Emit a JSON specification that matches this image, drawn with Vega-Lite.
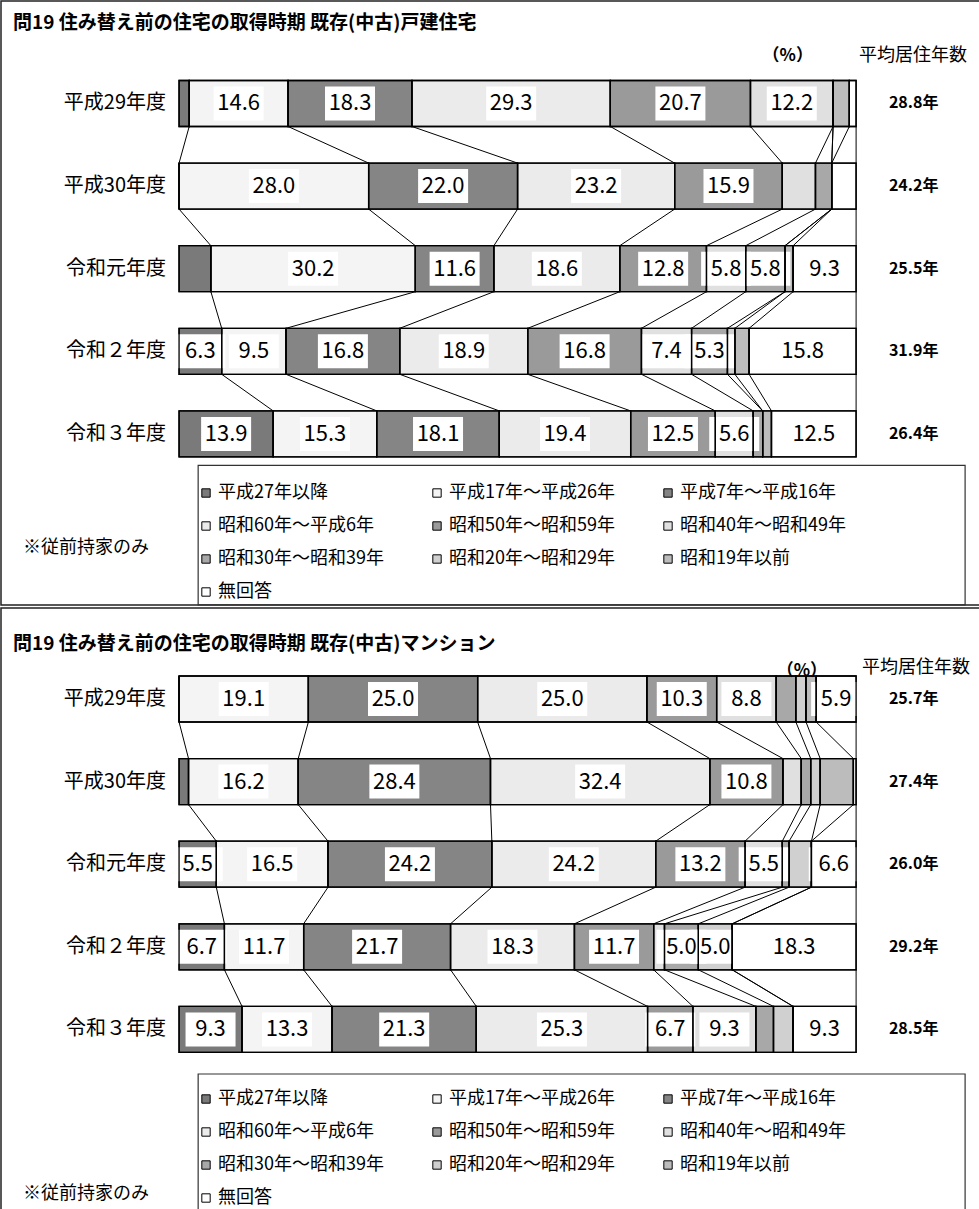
{
  "$schema": "https://vega.github.io/schema/vega-lite/v6.json",
  "padding": 0,
  "spacing": 0,
  "background": "white",
  "config": {
    "view": {"stroke": "#222", "strokeWidth": 1.5},
    "font": "Noto Sans CJK JP",
    "concat": {"spacing": 0}
  },
  "datasets": {
    "seg": [
      {"p":"戸建","yo":1,"co":1,"cat":"平成27年以降","v":1.5},
      {"p":"戸建","yo":1,"co":2,"cat":"平成17年～平成26年","v":14.6},
      {"p":"戸建","yo":1,"co":3,"cat":"平成7年～平成16年","v":18.3},
      {"p":"戸建","yo":1,"co":4,"cat":"昭和60年～平成6年","v":29.3},
      {"p":"戸建","yo":1,"co":5,"cat":"昭和50年～昭和59年","v":20.7},
      {"p":"戸建","yo":1,"co":6,"cat":"昭和40年～昭和49年","v":12.2},
      {"p":"戸建","yo":1,"co":7,"cat":"昭和30年～昭和39年","v":0},
      {"p":"戸建","yo":1,"co":8,"cat":"昭和20年～昭和29年","v":0},
      {"p":"戸建","yo":1,"co":9,"cat":"昭和19年以前","v":2.4},
      {"p":"戸建","yo":1,"co":10,"cat":"無回答","v":1.0},
      {"p":"戸建","yo":2,"co":1,"cat":"平成27年以降","v":0},
      {"p":"戸建","yo":2,"co":2,"cat":"平成17年～平成26年","v":28.0},
      {"p":"戸建","yo":2,"co":3,"cat":"平成7年～平成16年","v":22.0},
      {"p":"戸建","yo":2,"co":4,"cat":"昭和60年～平成6年","v":23.2},
      {"p":"戸建","yo":2,"co":5,"cat":"昭和50年～昭和59年","v":15.9},
      {"p":"戸建","yo":2,"co":6,"cat":"昭和40年～昭和49年","v":4.9},
      {"p":"戸建","yo":2,"co":7,"cat":"昭和30年～昭和39年","v":2.4},
      {"p":"戸建","yo":2,"co":8,"cat":"昭和20年～昭和29年","v":0},
      {"p":"戸建","yo":2,"co":9,"cat":"昭和19年以前","v":0},
      {"p":"戸建","yo":2,"co":10,"cat":"無回答","v":3.6},
      {"p":"戸建","yo":3,"co":1,"cat":"平成27年以降","v":4.7},
      {"p":"戸建","yo":3,"co":2,"cat":"平成17年～平成26年","v":30.2},
      {"p":"戸建","yo":3,"co":3,"cat":"平成7年～平成16年","v":11.6},
      {"p":"戸建","yo":3,"co":4,"cat":"昭和60年～平成6年","v":18.6},
      {"p":"戸建","yo":3,"co":5,"cat":"昭和50年～昭和59年","v":12.8},
      {"p":"戸建","yo":3,"co":6,"cat":"昭和40年～昭和49年","v":5.8},
      {"p":"戸建","yo":3,"co":7,"cat":"昭和30年～昭和39年","v":5.8},
      {"p":"戸建","yo":3,"co":8,"cat":"昭和20年～昭和29年","v":0},
      {"p":"戸建","yo":3,"co":9,"cat":"昭和19年以前","v":1.2},
      {"p":"戸建","yo":3,"co":10,"cat":"無回答","v":9.3},
      {"p":"戸建","yo":4,"co":1,"cat":"平成27年以降","v":6.3},
      {"p":"戸建","yo":4,"co":2,"cat":"平成17年～平成26年","v":9.5},
      {"p":"戸建","yo":4,"co":3,"cat":"平成7年～平成16年","v":16.8},
      {"p":"戸建","yo":4,"co":4,"cat":"昭和60年～平成6年","v":18.9},
      {"p":"戸建","yo":4,"co":5,"cat":"昭和50年～昭和59年","v":16.8},
      {"p":"戸建","yo":4,"co":6,"cat":"昭和40年～昭和49年","v":7.4},
      {"p":"戸建","yo":4,"co":7,"cat":"昭和30年～昭和39年","v":5.3},
      {"p":"戸建","yo":4,"co":8,"cat":"昭和20年～昭和29年","v":1.1},
      {"p":"戸建","yo":4,"co":9,"cat":"昭和19年以前","v":2.1},
      {"p":"戸建","yo":4,"co":10,"cat":"無回答","v":15.8},
      {"p":"戸建","yo":5,"co":1,"cat":"平成27年以降","v":13.9},
      {"p":"戸建","yo":5,"co":2,"cat":"平成17年～平成26年","v":15.3},
      {"p":"戸建","yo":5,"co":3,"cat":"平成7年～平成16年","v":18.1},
      {"p":"戸建","yo":5,"co":4,"cat":"昭和60年～平成6年","v":19.4},
      {"p":"戸建","yo":5,"co":5,"cat":"昭和50年～昭和59年","v":12.5},
      {"p":"戸建","yo":5,"co":6,"cat":"昭和40年～昭和49年","v":5.6},
      {"p":"戸建","yo":5,"co":7,"cat":"昭和30年～昭和39年","v":1.4},
      {"p":"戸建","yo":5,"co":8,"cat":"昭和20年～昭和29年","v":0},
      {"p":"戸建","yo":5,"co":9,"cat":"昭和19年以前","v":1.3},
      {"p":"戸建","yo":5,"co":10,"cat":"無回答","v":12.5},
      {"p":"マンション","yo":1,"co":1,"cat":"平成27年以降","v":0},
      {"p":"マンション","yo":1,"co":2,"cat":"平成17年～平成26年","v":19.1},
      {"p":"マンション","yo":1,"co":3,"cat":"平成7年～平成16年","v":25.0},
      {"p":"マンション","yo":1,"co":4,"cat":"昭和60年～平成6年","v":25.0},
      {"p":"マンション","yo":1,"co":5,"cat":"昭和50年～昭和59年","v":10.3},
      {"p":"マンション","yo":1,"co":6,"cat":"昭和40年～昭和49年","v":8.8},
      {"p":"マンション","yo":1,"co":7,"cat":"昭和30年～昭和39年","v":2.9},
      {"p":"マンション","yo":1,"co":8,"cat":"昭和20年～昭和29年","v":1.5},
      {"p":"マンション","yo":1,"co":9,"cat":"昭和19年以前","v":1.5},
      {"p":"マンション","yo":1,"co":10,"cat":"無回答","v":5.9},
      {"p":"マンション","yo":2,"co":1,"cat":"平成27年以降","v":1.4},
      {"p":"マンション","yo":2,"co":2,"cat":"平成17年～平成26年","v":16.2},
      {"p":"マンション","yo":2,"co":3,"cat":"平成7年～平成16年","v":28.4},
      {"p":"マンション","yo":2,"co":4,"cat":"昭和60年～平成6年","v":32.4},
      {"p":"マンション","yo":2,"co":5,"cat":"昭和50年～昭和59年","v":10.8},
      {"p":"マンション","yo":2,"co":6,"cat":"昭和40年～昭和49年","v":2.7},
      {"p":"マンション","yo":2,"co":7,"cat":"昭和30年～昭和39年","v":1.4},
      {"p":"マンション","yo":2,"co":8,"cat":"昭和20年～昭和29年","v":1.4},
      {"p":"マンション","yo":2,"co":9,"cat":"昭和19年以前","v":4.9},
      {"p":"マンション","yo":2,"co":10,"cat":"無回答","v":0.4},
      {"p":"マンション","yo":3,"co":1,"cat":"平成27年以降","v":5.5},
      {"p":"マンション","yo":3,"co":2,"cat":"平成17年～平成26年","v":16.5},
      {"p":"マンション","yo":3,"co":3,"cat":"平成7年～平成16年","v":24.2},
      {"p":"マンション","yo":3,"co":4,"cat":"昭和60年～平成6年","v":24.2},
      {"p":"マンション","yo":3,"co":5,"cat":"昭和50年～昭和59年","v":13.2},
      {"p":"マンション","yo":3,"co":6,"cat":"昭和40年～昭和49年","v":5.5},
      {"p":"マンション","yo":3,"co":7,"cat":"昭和30年～昭和39年","v":1.0},
      {"p":"マンション","yo":3,"co":8,"cat":"昭和20年～昭和29年","v":3.3},
      {"p":"マンション","yo":3,"co":9,"cat":"昭和19年以前","v":0},
      {"p":"マンション","yo":3,"co":10,"cat":"無回答","v":6.6},
      {"p":"マンション","yo":4,"co":1,"cat":"平成27年以降","v":6.7},
      {"p":"マンション","yo":4,"co":2,"cat":"平成17年～平成26年","v":11.7},
      {"p":"マンション","yo":4,"co":3,"cat":"平成7年～平成16年","v":21.7},
      {"p":"マンション","yo":4,"co":4,"cat":"昭和60年～平成6年","v":18.3},
      {"p":"マンション","yo":4,"co":5,"cat":"昭和50年～昭和59年","v":11.7},
      {"p":"マンション","yo":4,"co":6,"cat":"昭和40年～昭和49年","v":1.6},
      {"p":"マンション","yo":4,"co":7,"cat":"昭和30年～昭和39年","v":5.0},
      {"p":"マンション","yo":4,"co":8,"cat":"昭和20年～昭和29年","v":5.0},
      {"p":"マンション","yo":4,"co":9,"cat":"昭和19年以前","v":0},
      {"p":"マンション","yo":4,"co":10,"cat":"無回答","v":18.3},
      {"p":"マンション","yo":5,"co":1,"cat":"平成27年以降","v":9.3},
      {"p":"マンション","yo":5,"co":2,"cat":"平成17年～平成26年","v":13.3},
      {"p":"マンション","yo":5,"co":3,"cat":"平成7年～平成16年","v":21.3},
      {"p":"マンション","yo":5,"co":4,"cat":"昭和60年～平成6年","v":25.3},
      {"p":"マンション","yo":5,"co":5,"cat":"昭和50年～昭和59年","v":6.7},
      {"p":"マンション","yo":5,"co":6,"cat":"昭和40年～昭和49年","v":9.3},
      {"p":"マンション","yo":5,"co":7,"cat":"昭和30年～昭和39年","v":2.6},
      {"p":"マンション","yo":5,"co":8,"cat":"昭和20年～昭和29年","v":2.9},
      {"p":"マンション","yo":5,"co":9,"cat":"昭和19年以前","v":0},
      {"p":"マンション","yo":5,"co":10,"cat":"無回答","v":9.3}
    ],
    "avg": [
      {"p":"戸建","yo":1,"year":"平成29年度","avg":28.8},
      {"p":"戸建","yo":2,"year":"平成30年度","avg":24.2},
      {"p":"戸建","yo":3,"year":"令和元年度","avg":25.5},
      {"p":"戸建","yo":4,"year":"令和２年度","avg":31.9},
      {"p":"戸建","yo":5,"year":"令和３年度","avg":26.4},
      {"p":"マンション","yo":1,"year":"平成29年度","avg":25.7},
      {"p":"マンション","yo":2,"year":"平成30年度","avg":27.4},
      {"p":"マンション","yo":3,"year":"令和元年度","avg":26.0},
      {"p":"マンション","yo":4,"year":"令和２年度","avg":29.2},
      {"p":"マンション","yo":5,"year":"令和３年度","avg":28.5}
    ]
  },
  "resolve": {"scale": {"fill": "independent"}, "legend": {"fill": "independent"}},
  "vconcat": [
    {
      "width": 979,
      "height": 604,
      "layer": [
        {
          "data": {"name": "seg"},
          "transform": [
            {"filter": "datum.p === '戸建'"},
            {"stack": "v", "groupby": ["yo"], "sort": [{"field": "co", "order": "ascending"}], "as": ["x0", "x1"]}
          ],
          "mark": {"type": "rect", "yOffset": -23, "y2Offset": 23, "stroke": "black", "strokeWidth": 1.3},
          "encoding": {
            "x": {"field": "x0", "type": "quantitative", "scale": {"domain": [-26.3, 118.3], "nice": false, "zero": false}, "axis": null},
            "x2": {"field": "x1"},
            "y": {"field": "yo", "type": "quantitative", "scale": {"domain": [-0.2409, 7.0714], "reverse": true, "nice": false, "zero": false}, "axis": null},
            "y2": {"field": "yo"},
            "fill": {
              "field": "cat", "type": "nominal",
              "scale": {
                "domain": ["平成27年以降","平成17年～平成26年","平成7年～平成16年","昭和60年～平成6年","昭和50年～昭和59年","昭和40年～昭和49年","昭和30年～昭和39年","昭和20年～昭和29年","昭和19年以前","無回答"],
                "range": ["#7a7a7a","#f4f4f4","#858585","#ebebeb","#9a9a9a","#e0e0e0","#a8a8a8","#d0d0d0","#bcbcbc","#ffffff"]
              },
              "legend": {"title": null, "orient": "none", "direction": "horizontal", "legendX": 196, "legendY": 483, "columns": 3, "gridAlign": "all", "columnPadding": 44, "rowPadding": 15, "symbolType": "square", "symbolSize": 70, "symbolStrokeColor": "black", "symbolStrokeWidth": 1, "labelFontSize": 18, "labelFont": "Noto Sans CJK JP", "labelColor": "black", "labelOffset": 3, "labelLimit": 400}
            }
          }
        },
        {
          "data": {"name": "seg"},
          "transform": [
            {"filter": "datum.p === '戸建'"},
            {"stack": "v", "groupby": ["yo"], "sort": [{"field": "co", "order": "ascending"}], "as": ["x0", "x1"]},
            {"window": [{"op": "lead", "field": "x1", "as": "nx1"}, {"op": "lead", "field": "yo", "as": "nyo"}], "groupby": ["co"], "sort": [{"field": "yo", "order": "ascending"}]},
            {"filter": "datum.nyo != null"}
          ],
          "mark": {"type": "rule", "yOffset": 23, "y2Offset": -23, "color": "black", "strokeWidth": 1},
          "encoding": {
            "x": {"field": "x1", "type": "quantitative"},
            "x2": {"field": "nx1"},
            "y": {"field": "yo", "type": "quantitative"},
            "y2": {"field": "nyo"}
          }
        },
        {
          "data": {"name": "seg"},
          "transform": [
            {"filter": "datum.p === '戸建'"},
            {"stack": "v", "groupby": ["yo"], "sort": [{"field": "co", "order": "ascending"}], "as": ["x0", "x1"]},
            {"calculate": "(datum.x0 + datum.x1) / 2", "as": "xm"},
            {"filter": "datum.v >= 5"}
          ],
          "mark": {"type": "point", "shape": "M-1,-0.68H1V0.68H-1Z", "size": 2500, "filled": true, "fill": "white", "opacity": 1, "strokeWidth": 0},
          "encoding": {
            "x": {"field": "xm", "type": "quantitative"},
            "y": {"field": "yo", "type": "quantitative"}
          }
        },
        {
          "data": {"name": "seg"},
          "transform": [
            {"filter": "datum.p === '戸建'"},
            {"stack": "v", "groupby": ["yo"], "sort": [{"field": "co", "order": "ascending"}], "as": ["x0", "x1"]}
          ],
          "mark": {"type": "rect", "yOffset": -23, "y2Offset": 23, "stroke": "black", "strokeWidth": 1.3, "fill": "transparent"},
          "encoding": {
            "x": {"field": "x0", "type": "quantitative"},
            "x2": {"field": "x1"},
            "y": {"field": "yo", "type": "quantitative"},
            "y2": {"field": "yo"}
          }
        },
        {
          "data": {"name": "seg"},
          "transform": [
            {"filter": "datum.p === '戸建'"},
            {"stack": "v", "groupby": ["yo"], "sort": [{"field": "co", "order": "ascending"}], "as": ["x0", "x1"]},
            {"calculate": "(datum.x0 + datum.x1) / 2", "as": "xm"},
            {"filter": "datum.v >= 5"}
          ],
          "mark": {"type": "text", "font": "Noto Sans CJK JP", "fontSize": 22, "align": "center", "baseline": "middle", "color": "black"},
          "encoding": {
            "x": {"field": "xm", "type": "quantitative"},
            "y": {"field": "yo", "type": "quantitative"},
            "text": {"field": "v", "type": "quantitative", "format": ".1f"}
          }
        },
        {
          "data": {"name": "avg"},
          "transform": [{"filter": "datum.p === '戸建'"}],
          "mark": {"type": "text", "align": "right", "baseline": "middle", "dx": -13, "fontSize": 20, "font": "Noto Sans CJK JP", "color": "black"},
          "encoding": {
            "x": {"datum": 0},
            "y": {"field": "yo", "type": "quantitative"},
            "text": {"field": "year"}
          }
        },
        {
          "data": {"name": "avg"},
          "transform": [{"filter": "datum.p === '戸建'"}, {"calculate": "format(datum.avg, '.1f') + '年'", "as": "lab"}],
          "mark": {"type": "text", "align": "center", "baseline": "middle", "fontSize": 16, "font": "Noto Sans CJK JP", "fontWeight": "bold", "color": "black"},
          "encoding": {
            "x": {"datum": 108.5},
            "y": {"field": "yo", "type": "quantitative"},
            "text": {"field": "lab"}
          }
        },
        {
          "data": {"values": [{}]},
          "mark": {"type": "rect", "fill": "transparent", "stroke": "#333", "strokeWidth": 1.2},
          "encoding": {
            "x": {"datum": 2.82},
            "x2": {"datum": 116.1},
            "y": {"datum": 5.381},
            "y2": {"datum": 7.07}
          }
        },
        {
          "data": {"values": [{"t": "問19 住み替え前の住宅の取得時期 既存(中古)戸建住宅"}]},
          "mark": {"type": "text", "align": "left", "baseline": "middle", "fontSize": 19, "fontWeight": "bold", "font": "Noto Sans CJK JP", "color": "black"},
          "encoding": {"x": {"datum": -24.53}, "y": {"datum": 0.0254}, "text": {"field": "t"}}
        },
        {
          "data": {"values": [{"t": "（%）"}]},
          "mark": {"type": "text", "align": "center", "baseline": "middle", "fontSize": 17, "fontWeight": "bold", "font": "Noto Sans CJK JP", "color": "black"},
          "encoding": {"x": {"datum": 89.9}, "y": {"datum": 0.425}, "text": {"field": "t"}}
        },
        {
          "data": {"values": [{"t": "平均居住年数"}]},
          "mark": {"type": "text", "align": "center", "baseline": "middle", "fontSize": 18, "font": "Noto Sans CJK JP", "color": "black"},
          "encoding": {"x": {"datum": 108.4}, "y": {"datum": 0.425}, "text": {"field": "t"}}
        },
        {
          "data": {"values": [{"t": "※従前持家のみ"}]},
          "mark": {"type": "text", "align": "center", "baseline": "middle", "fontSize": 18, "font": "Noto Sans CJK JP", "color": "black"},
          "encoding": {"x": {"datum": -13.73}, "y": {"datum": 6.381}, "text": {"field": "t"}}
        }
      ]
    },
    {
      "width": 979,
      "height": 604,
      "layer": [
        {
          "data": {"name": "seg"},
          "transform": [
            {"filter": "datum.p === 'マンション'"},
            {"stack": "v", "groupby": ["yo"], "sort": [{"field": "co", "order": "ascending"}], "as": ["x0", "x1"]}
          ],
          "mark": {"type": "rect", "yOffset": -23, "y2Offset": 23, "stroke": "black", "strokeWidth": 1.3},
          "encoding": {
            "x": {"field": "x0", "type": "quantitative", "scale": {"domain": [-26.3, 118.3], "nice": false, "zero": false}, "axis": null},
            "x2": {"field": "x1"},
            "y": {"field": "yo", "type": "quantitative", "scale": {"domain": [-0.1017, 7.2107], "reverse": true, "nice": false, "zero": false}, "axis": null},
            "y2": {"field": "yo"},
            "fill": {
              "field": "cat", "type": "nominal",
              "scale": {
                "domain": ["平成27年以降","平成17年～平成26年","平成7年～平成16年","昭和60年～平成6年","昭和50年～昭和59年","昭和40年～昭和49年","昭和30年～昭和39年","昭和20年～昭和29年","昭和19年以前","無回答"],
                "range": ["#7a7a7a","#f4f4f4","#858585","#ebebeb","#9a9a9a","#e0e0e0","#a8a8a8","#d0d0d0","#bcbcbc","#ffffff"]
              },
              "legend": {"title": null, "orient": "none", "direction": "horizontal", "legendX": 196, "legendY": 482, "columns": 3, "gridAlign": "all", "columnPadding": 44, "rowPadding": 15, "symbolType": "square", "symbolSize": 70, "symbolStrokeColor": "black", "symbolStrokeWidth": 1, "labelFontSize": 18, "labelFont": "Noto Sans CJK JP", "labelColor": "black", "labelOffset": 3, "labelLimit": 400}
            }
          }
        },
        {
          "data": {"name": "seg"},
          "transform": [
            {"filter": "datum.p === 'マンション'"},
            {"stack": "v", "groupby": ["yo"], "sort": [{"field": "co", "order": "ascending"}], "as": ["x0", "x1"]},
            {"window": [{"op": "lead", "field": "x1", "as": "nx1"}, {"op": "lead", "field": "yo", "as": "nyo"}], "groupby": ["co"], "sort": [{"field": "yo", "order": "ascending"}]},
            {"filter": "datum.nyo != null"}
          ],
          "mark": {"type": "rule", "yOffset": 23, "y2Offset": -23, "color": "black", "strokeWidth": 1},
          "encoding": {
            "x": {"field": "x1", "type": "quantitative"},
            "x2": {"field": "nx1"},
            "y": {"field": "yo", "type": "quantitative"},
            "y2": {"field": "nyo"}
          }
        },
        {
          "data": {"name": "seg"},
          "transform": [
            {"filter": "datum.p === 'マンション'"},
            {"stack": "v", "groupby": ["yo"], "sort": [{"field": "co", "order": "ascending"}], "as": ["x0", "x1"]},
            {"calculate": "(datum.x0 + datum.x1) / 2", "as": "xm"},
            {"filter": "datum.v >= 5"}
          ],
          "mark": {"type": "point", "shape": "M-1,-0.68H1V0.68H-1Z", "size": 2500, "filled": true, "fill": "white", "opacity": 1, "strokeWidth": 0},
          "encoding": {
            "x": {"field": "xm", "type": "quantitative"},
            "y": {"field": "yo", "type": "quantitative"}
          }
        },
        {
          "data": {"name": "seg"},
          "transform": [
            {"filter": "datum.p === 'マンション'"},
            {"stack": "v", "groupby": ["yo"], "sort": [{"field": "co", "order": "ascending"}], "as": ["x0", "x1"]}
          ],
          "mark": {"type": "rect", "yOffset": -23, "y2Offset": 23, "stroke": "black", "strokeWidth": 1.3, "fill": "transparent"},
          "encoding": {
            "x": {"field": "x0", "type": "quantitative"},
            "x2": {"field": "x1"},
            "y": {"field": "yo", "type": "quantitative"},
            "y2": {"field": "yo"}
          }
        },
        {
          "data": {"name": "seg"},
          "transform": [
            {"filter": "datum.p === 'マンション'"},
            {"stack": "v", "groupby": ["yo"], "sort": [{"field": "co", "order": "ascending"}], "as": ["x0", "x1"]},
            {"calculate": "(datum.x0 + datum.x1) / 2", "as": "xm"},
            {"filter": "datum.v >= 5"}
          ],
          "mark": {"type": "text", "font": "Noto Sans CJK JP", "fontSize": 22, "align": "center", "baseline": "middle", "color": "black"},
          "encoding": {
            "x": {"field": "xm", "type": "quantitative"},
            "y": {"field": "yo", "type": "quantitative"},
            "text": {"field": "v", "type": "quantitative", "format": ".1f"}
          }
        },
        {
          "data": {"name": "avg"},
          "transform": [{"filter": "datum.p === 'マンション'"}],
          "mark": {"type": "text", "align": "right", "baseline": "middle", "dx": -13, "fontSize": 20, "font": "Noto Sans CJK JP", "color": "black"},
          "encoding": {
            "x": {"datum": 0},
            "y": {"field": "yo", "type": "quantitative"},
            "text": {"field": "year"}
          }
        },
        {
          "data": {"name": "avg"},
          "transform": [{"filter": "datum.p === 'マンション'"}, {"calculate": "format(datum.avg, '.1f') + '年'", "as": "lab"}],
          "mark": {"type": "text", "align": "center", "baseline": "middle", "fontSize": 16, "font": "Noto Sans CJK JP", "fontWeight": "bold", "color": "black"},
          "encoding": {
            "x": {"datum": 108.5},
            "y": {"field": "yo", "type": "quantitative"},
            "text": {"field": "lab"}
          }
        },
        {
          "data": {"values": [{}]},
          "mark": {"type": "rect", "fill": "transparent", "stroke": "#333", "strokeWidth": 1.2},
          "encoding": {
            "x": {"datum": 2.82},
            "x2": {"datum": 116.1},
            "y": {"datum": 5.54},
            "y2": {"datum": 7.25}
          }
        },
        {
          "data": {"values": [{"t": "問19 住み替え前の住宅の取得時期 既存(中古)マンション"}]},
          "mark": {"type": "text", "align": "left", "baseline": "middle", "fontSize": 19, "fontWeight": "bold", "font": "Noto Sans CJK JP", "color": "black"},
          "encoding": {"x": {"datum": -24.53}, "y": {"datum": 0.334}, "text": {"field": "t"}}
        },
        {
          "data": {"values": [{"t": "（%）"}]},
          "mark": {"type": "text", "align": "center", "baseline": "middle", "fontSize": 17, "fontWeight": "bold", "font": "Noto Sans CJK JP", "color": "black"},
          "encoding": {"x": {"datum": 92.0}, "y": {"datum": 0.661}, "text": {"field": "t"}}
        },
        {
          "data": {"values": [{"t": "平均居住年数"}]},
          "mark": {"type": "text", "align": "center", "baseline": "middle", "fontSize": 18, "font": "Noto Sans CJK JP", "color": "black"},
          "encoding": {"x": {"datum": 108.85}, "y": {"datum": 0.625}, "text": {"field": "t"}}
        },
        {
          "data": {"values": [{"t": "※従前持家のみ"}]},
          "mark": {"type": "text", "align": "center", "baseline": "middle", "fontSize": 18, "font": "Noto Sans CJK JP", "color": "black"},
          "encoding": {"x": {"datum": -13.73}, "y": {"datum": 6.993}, "text": {"field": "t"}}
        }
      ]
    }
  ]
}
